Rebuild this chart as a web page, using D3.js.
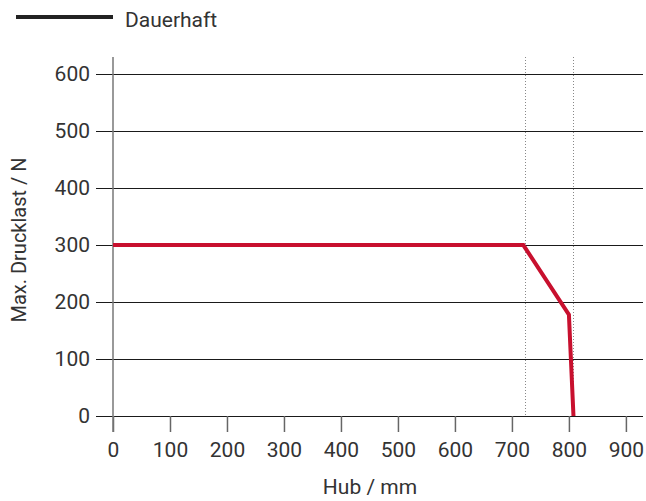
<!DOCTYPE html>
<html>
<head>
<meta charset="utf-8">
<script src="https://cdn.jsdelivr.net/npm/d3@7"></script>
<style>
  body { margin: 0; background: #fff; }
  text { font-family: Roboto, sans-serif; fill: #333; }
</style>
</head>
<body>
<div id="chart"></div>
<script>
// data
var hubValues = [0, 720, 800, 808];
var lastValues = [300, 300, 178, 0];
var markerLines = [723, 808];
var xTicks = [0, 100, 200, 300, 400, 500, 600, 700, 800, 900];
var yTicks = [0, 100, 200, 300, 400, 500, 600];
var seriesName = "Dauerhaft";

var width = 646, height = 501;
var margin = { top: 57, right: 3, bottom: 85, left: 113 };

var svg = d3
  .select("#chart")
  .append("svg")
  .attr("width", width)
  .attr("height", height);

var x = d3.scaleLinear().domain([0, 930]).range([margin.left, width - margin.right]);
var y = d3.scaleLinear().domain([0, 630]).range([height - margin.bottom, margin.top]);

// crisp 1px positions
function crisp(v) {
  return Math.round(v) + 0.5;
}

// horizontal grid lines (also act as y ticks)
svg
  .append("g")
  .selectAll("line")
  .data(yTicks)
  .enter()
  .append("line")
  .attr("x1", margin.left - 17)
  .attr("x2", width - margin.right)
  .attr("y1", (d) => crisp(y(d)))
  .attr("y2", (d) => crisp(y(d)))
  .style("stroke", "#1a1a1a")
  .style("stroke-width", 1);

// y tick labels
svg
  .append("g")
  .selectAll("text")
  .data(yTicks)
  .enter()
  .append("text")
  .attr("x", margin.left - 23)
  .attr("y", (d) => y(d))
  .attr("dy", "0.35em")
  .style("text-anchor", "end")
  .style("font-size", "21px")
  .text((d) => d);

// x axis ticks
var xAxis = d3.axisBottom(x).tickValues(xTicks).tickSize(16).tickPadding(10);
var gx = svg
  .append("g")
  .attr("transform", "translate(0," + Math.round(y(0)) + ")")
  .call(xAxis);
gx.select(".domain").remove();
gx.selectAll(".tick line").style("stroke", "#666").style("stroke-width", 1.5);
gx.selectAll(".tick text")
  .style("font-family", "Roboto, sans-serif")
  .style("font-size", "21px")
  .style("fill", "#333");

// y axis line
svg
  .append("line")
  .attr("x1", x(0))
  .attr("x2", x(0))
  .attr("y1", margin.top)
  .attr("y2", y(0) + 16)
  .style("stroke", "#777")
  .style("stroke-width", 1.5);

// dotted marker lines
svg
  .append("g")
  .selectAll("line")
  .data(markerLines)
  .enter()
  .append("line")
  .attr("x1", (d) => crisp(x(d)))
  .attr("x2", (d) => crisp(x(d)))
  .attr("y1", margin.top)
  .attr("y2", y(0))
  .style("stroke", "#888")
  .style("stroke-width", 1)
  .style("stroke-dasharray", "1,2");

// the curve
var points = hubValues.map((d, i) => [d, lastValues[i]]);
var line = d3
  .line()
  .x((d) => x(d[0]))
  .y((d) => y(d[1]));

svg
  .append("path")
  .datum(points)
  .attr("d", line)
  .style("fill", "none")
  .style("stroke", "#c8102e")
  .style("stroke-width", 4)
  .style("stroke-linejoin", "miter");

// legend
svg
  .append("line")
  .attr("x1", 16)
  .attr("x2", 113)
  .attr("y1", 17)
  .attr("y2", 17)
  .style("stroke", "#222")
  .style("stroke-width", 4);

svg
  .append("text")
  .attr("x", 125)
  .attr("y", 27)
  .style("font-size", "21px")
  .text(seriesName);

// axis titles
svg
  .append("text")
  .attr("transform", "translate(26,240)rotate(-90)")
  .style("text-anchor", "middle")
  .style("font-size", "20px")
  .text("Max. Drucklast / N");

svg
  .append("text")
  .attr("x", 370)
  .attr("y", 494)
  .style("text-anchor", "middle")
  .style("font-size", "21px")
  .text("Hub / mm");
</script>
</body>
</html>
